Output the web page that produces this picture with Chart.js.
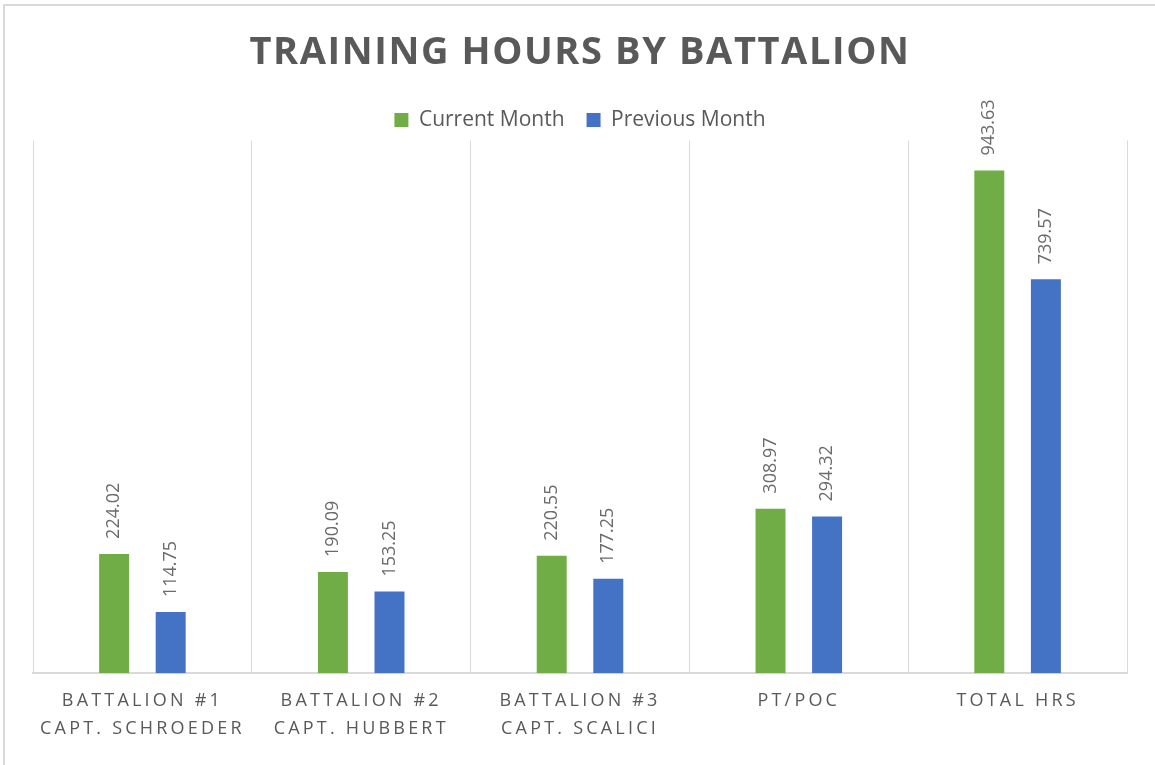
<!DOCTYPE html>
<html>
<head>
<meta charset="utf-8">
<script src="https://cdn.jsdelivr.net/npm/chart.js@4.4.1/dist/chart.umd.min.js"></script>
<style>
html,body{margin:0;padding:0;background:#fff;}
#wrap{width:1155px;height:765px;position:relative;}
</style>
</head>
<body>
<div id="wrap"><canvas id="c" width="1155" height="765"></canvas></div>
<script>
const categories = [
  ['BATTALION #1', 'CAPT. SCHROEDER'],
  ['BATTALION #2', 'CAPT. HUBBERT'],
  ['BATTALION #3', 'CAPT. SCALICI'],
  'PT/POC',
  'TOTAL HRS'
];
const currentMonth = [224.02, 190.09, 220.55, 308.97, 943.63];
const previousMonth = [114.75, 153.25, 177.25, 294.32, 739.57];
const seriesNames = ['Current Month', 'Previous Month'];
const chartTitle = 'TRAINING HOURS BY BATTALION';

class SpacedCategory extends Chart.CategoryScale {
  drawLabels(area) {
    const ctx = this.ctx;
    ctx.save();
    ctx.letterSpacing = '3.2px';
    super.drawLabels(area);
    ctx.restore();
  }
}
SpacedCategory.id = 'spacedCategory';
SpacedCategory.defaults = Chart.CategoryScale.defaults;
Chart.register(SpacedCategory);

const frame = {
  id: 'frame',
  beforeDraw(chart) {
    const ctx = chart.ctx;
    ctx.save();
    ctx.fillStyle = '#fff';
    ctx.fillRect(0, 0, chart.width, chart.height);
    ctx.fillStyle = '#d9d9d9';
    ctx.fillRect(3, 4, chart.width - 3, 2);
    ctx.fillRect(3, 4, 2, chart.height - 4);
    ctx.restore();
  },
  afterLayout(chart) {
    const tb = chart.titleBlock;
    if (tb && !tb._spaced) {
      const orig = tb.draw;
      tb.draw = function (...args) {
        const ctx = this.ctx;
        ctx.save();
        ctx.letterSpacing = '1.6px';
        orig.apply(this, args);
        ctx.restore();
      };
      tb._spaced = true;
    }
  }
};

const valueLabels = {
  id: 'valueLabels',
  afterDatasetsDraw(chart) {
    const ctx = chart.ctx;
    ctx.save();
    ctx.font = '18px "Open Sans"';
    ctx.fillStyle = '#6b6b6b';
    ctx.textAlign = 'left';
    ctx.textBaseline = 'middle';
    chart.data.datasets.forEach((ds, i) => {
      const meta = chart.getDatasetMeta(i);
      meta.data.forEach((bar, j) => {
        const txt = ds.data[j].toFixed(2);
        ctx.save();
        ctx.translate(bar.x, bar.y - 15);
        ctx.rotate(-Math.PI / 2);
        ctx.fillText(txt, 0, 0);
        ctx.restore();
      });
    });
    ctx.restore();
  }
};

new Chart(document.getElementById('c'), {
  type: 'bar',
  data: {
    labels: categories,
    datasets: [
      { label: seriesNames[0], data: currentMonth, backgroundColor: '#70AD47',
        categoryPercentage: 0.517, barPercentage: 0.53 },
      { label: seriesNames[1], data: previousMonth, backgroundColor: '#4472C4',
        categoryPercentage: 0.517, barPercentage: 0.53 }
    ]
  },
  options: {
    responsive: false,
    animation: false,
    devicePixelRatio: 1,
    layout: { padding: { left: 33, right: 28, top: 0, bottom: 8 } },
    plugins: {
      title: {
        display: true,
        text: chartTitle,
        color: '#595959',
        font: { family: '"Open Sans"', size: 38, weight: 'bold' },
        padding: { top: 30, bottom: 12 }
      },
      legend: {
        display: true,
        position: 'top',
        labels: {
          color: '#595959',
          font: { family: '"Open Sans"', size: 21 },
          boxWidth: 14,
          boxHeight: 14,
          padding: 22
        }
      },
      tooltip: { enabled: false }
    },
    scales: {
      x: {
        type: 'spacedCategory',
        grid: { offset: true, color: '#d9d9d9', lineWidth: 1, drawTicks: false },
        border: { color: '#d9d9d9', width: 2 },
        ticks: {
          color: '#595959',
          font: { family: '"Open Sans"', size: 18, lineHeight: 1.55 },
          padding: 14,
          maxRotation: 0,
          autoSkip: false
        }
      },
      y: {
        display: false,
        min: 0,
        max: 1000
      }
    }
  },
  plugins: [frame, valueLabels]
});
</script>
</body>
</html>
